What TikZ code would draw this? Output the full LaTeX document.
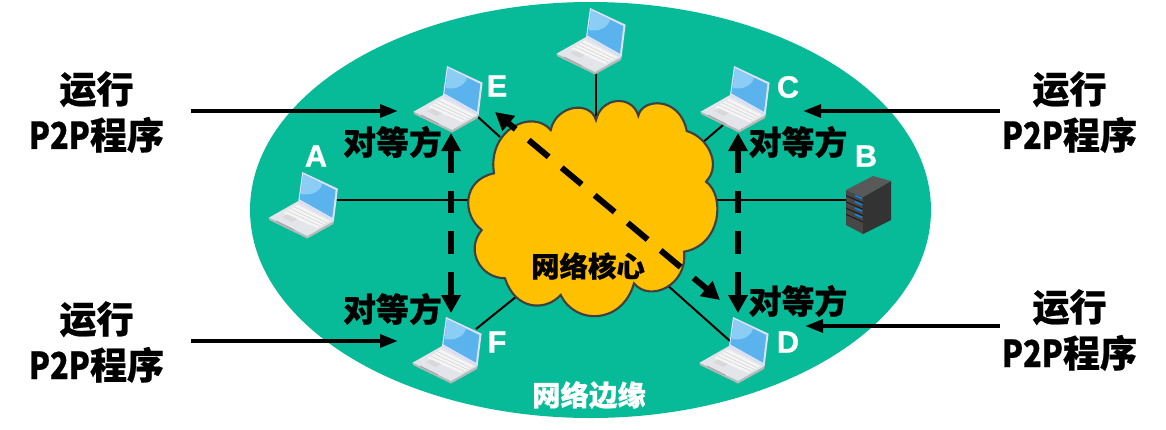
\documentclass[tikz,border=0pt]{standalone}
\usepackage{fontspec}
\newfontfamily\cjk{Noto Sans CJK SC}[BoldFeatures={FakeBold=0.6}]
\newfontfamily\narrowlatin{Noto Sans CJK SC}[BoldFeatures={FakeBold=0.6,FakeStretch=0.83}]
\newfontfamily\hostfont{Liberation Sans}[BoldFeatures={FakeBold=1}]
\definecolor{edgegreen}{RGB}{8, 187, 152}
\definecolor{coreyellow}{RGB}{255, 192, 0}
\definecolor{screenblue}{RGB}{91, 179, 238}
\definecolor{shineblue}{RGB}{140, 205, 246}
\definecolor{bodygrey}{RGB}{228, 229, 235}
\usetikzlibrary{
  arrows.meta,
  calc,
  positioning,
}
\newcommand{\ptwop}{{\narrowlatin P2P}}
\tikzset{
  x=0.75pt, y=-0.75pt,
  runtext/.style={font=\cjk\bfseries\fontsize{27.8}{34.5}\selectfont, align=center, inner sep=0pt},
  peertext/.style={font=\cjk\bfseries\fontsize{24.7}{28}\selectfont, inner sep=0pt},
  zonetext/.style={font=\cjk\bfseries\fontsize{21.3}{24}\selectfont, inner sep=0pt},
  hosttext/.style={font=\hostfont\bfseries\fontsize{23}{24}\selectfont, text=white, inner sep=0pt},
  link/.style={black, line width=1.5pt},
  runarrow/.style={black, line width=3pt, -{Triangle[length=13.5pt, width=9.5pt]}},
  peerarrow/.style={black, line width=4.5pt, {Triangle[length=13.5pt, width=14pt]}-{Triangle[length=13.5pt, width=14pt]}},
  laptop/.pic={
    \coordinate (-top) at (0,0);
    % base of the machine
    \fill [gray!55] (-33.4,45.7) -- (5,64) -- (31.6,49) -- (31,52) -- (5,66.5) -- (-33,48) -- cycle;
    \fill [bodygrey] (-33.4,45.7) -- (-4,29) -- (31.6,49) -- (5,64) -- cycle;
    \fill [white!92!gray] (-19,41) -- (-5,32.5) -- (27.5,49) -- (15,56) -- cycle;
    \foreach \k in {0.25,0.5,0.75} {
      \draw [gray!35, line width=0.4pt] ($(-19,41)!\k!(-5,32.5)$) -- ($(15,56)!\k!(27.5,49)$);
    }
    \fill [gray!30] (-20,45) -- (-15,42.5) -- (-5,47) -- (-10,50) -- cycle;
    \draw [gray!70, line width=0.8pt] (-26,49) -- (-8,58);
    % screen
    \fill [white!88!blue] (0,0) -- (35.6,16.7) -- (31.6,49) -- (-4,29) -- cycle;
    \fill [screenblue] (1,2.3) -- (33.3,18) -- (30,45.7) -- (-2.7,27.3) -- cycle;
    \fill [shineblue] (1,2.3) -- (20,11.5) .. controls (18,20) and (8,24) .. (-1.4,22) -- cycle;
  },
}

\begin{document}
\begin{tikzpicture}
  \useasboundingbox (0,0) rectangle (1166,429);
  \fill [edgegreen] (590.5,210) ellipse [x radius=340.5, y radius=208];

  % ends of the links and of the arrows
  \coordinate (hostE) at (478,117);
  \coordinate (coreE) at (500,137);
  \coordinate (hostT) at (596,72);
  \coordinate (coreT) at (596,122);
  \coordinate (hostC) at (723,125);
  \coordinate (coreC) at (702,143);
  \coordinate (hostA) at (337,200);
  \coordinate (coreA) at (472,200);
  \coordinate (hostB) at (846,200);
  \coordinate (coreB) at (714,200);
  \coordinate (hostF) at (476,329);
  \coordinate (coreF) at (517,296);
  \coordinate (hostD) at (730,341);
  \coordinate (coreD) at (666,284);
  \foreach \a/\b in {hostE/coreE, hostT/coreT, hostC/coreC, hostA/coreA, hostB/coreB, hostF/coreF, hostD/coreD} {
    \draw [link] (\a) -- (\b);
  }

  % network core
  \draw [fill=coreyellow, draw=black!75, line width=1.6pt]
    (550.7,130) .. controls (556,105) and (590,100) .. (596,120)
    .. controls (601,97) and (632,94) .. (638.3,115.7)
    .. controls (642,98) and (680,96) .. (686.7,131)
    .. controls (708,137) and (722,165) .. (706,181.7)
    .. controls (725,195) and (722,245) .. (684,251.7)
    .. controls (688,285) and (650,303) .. (634,283.3)
    .. controls (622,325) and (575,325) .. (560.7,295)
    .. controls (545,312) and (515,310) .. (505,278.3)
    .. controls (480,278) and (465,250) .. (481.7,230)
    .. controls (462,215) and (462,180) .. (494,173.3)
    .. controls (487,130) and (532,108) .. (550.7,130) -- cycle;

  % peer to peer arrows
  \coordinate (peerEtip) at (451,133);
  \coordinate (peerFtip) at (451,313);
  \coordinate (peerCtip) at (738,133);
  \coordinate (peerDtip) at (738,313);
  \coordinate (peerE2tip) at (495,112);
  \coordinate (peerD2tip) at (720,300);
  \draw [peerarrow, dash pattern=on 17pt off 13.5pt] (peerEtip) -- (peerFtip);
  \draw [peerarrow, dash pattern=on 17pt off 13.5pt] (peerCtip) -- (peerDtip);
  \draw [peerarrow, dash pattern=on 19.5pt off 12.75pt, dash phase=12pt] (peerE2tip) -- (peerD2tip);

  % hosts
  \foreach \name/\px/\py in {E/447/66, A/302.3/172, C/734/66, F/446/317, D/733/317, T/590/8} {
    \pic (laptop\name) at (\px,\py) {laptop};
  }
  \fill [black!72] (846,190) -- (863,197) -- (863,234) -- (846,225) -- cycle;
  \fill [black!80] (863,197) -- (891,181) -- (891,220) -- (863,234) -- cycle;
  \fill [black!65] (846,190) -- (873,176) -- (891,181) -- (863,197) -- cycle;
  \foreach \k in {0,6.3,12.6,18.9} {
    \fill [black!90] (846,195+\k) -- (863,202.5+\k) -- (863,203.5+\k) -- (846,196+\k) -- cycle;
    \draw [blue!45!cyan, line width=1pt] (855,195.5+\k) -- (862,198.5+\k);
  }

  % labels
  \node [hosttext] (nameA) at (316,156) {A};
  \node [hosttext] (nameB) at (866,156) {B};
  \node [hosttext] (nameC) at (788,87) {C};
  \node [hosttext] (nameD) at (788,342) {D};
  \node [hosttext] (nameE) at (497,86) {E};
  \node [hosttext] (nameF) at (497,342) {F};
  \node [peertext] (peerE) at (392.5,142) {对等方};
  \node [peertext] (peerC) at (798,142) {对等方};
  \node [peertext] (peerF) at (392.5,309) {对等方};
  \node [peertext] (peerD) at (798,301) {对等方};
  \node [zonetext] (core) at (588,266) {网络核心};
  \node [zonetext, text=white] (edge) at (589,395) {网络边缘};

  % who runs the program
  \node [runtext] (runE) at (96.5,112) {运行\\\ptwop 程序};
  \node [runtext] (runC) at (1069.5,112) {运行\\\ptwop 程序};
  \node [runtext] (runF) at (96.5,342) {运行\\\ptwop 程序};
  \node [runtext] (runD) at (1069.5,330) {运行\\\ptwop 程序};
  \coordinate (startE) at (191,111);
  \coordinate (stopE) at (398,111);
  \coordinate (startC) at (1000,111);
  \coordinate (stopC) at (803,111);
  \coordinate (startF) at (191,341);
  \coordinate (stopF) at (398,341);
  \coordinate (startD) at (1000,326);
  \coordinate (stopD) at (805,326);
  \foreach \s in {E,C,F,D} {
    \draw [runarrow] (start\s) -- (stop\s);
  }
\end{tikzpicture}
\end{document}
